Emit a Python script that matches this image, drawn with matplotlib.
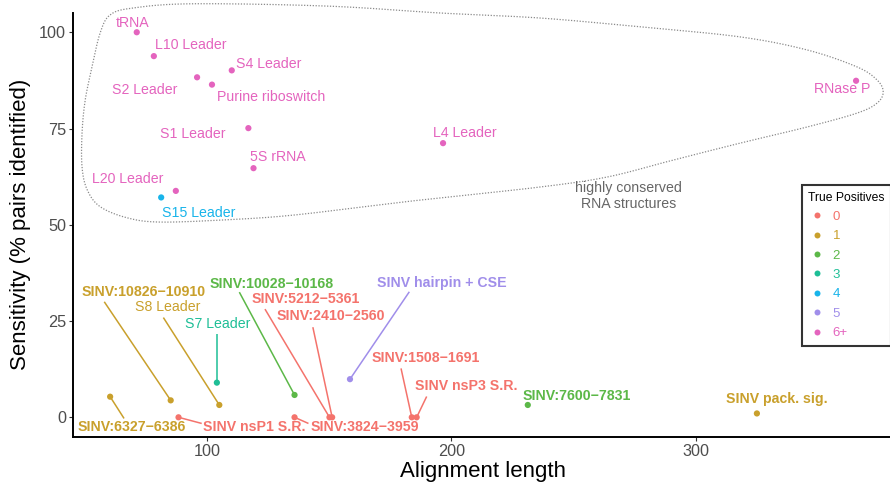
import numpy as np
import matplotlib
matplotlib.use("Agg")
import matplotlib.pyplot as plt
from matplotlib.lines import Line2D

plt.rcParams['font.family'] = ['Liberation Sans', 'DejaVu Sans']

# ---------------- data ----------------
names = ["tRNA", "L10 Leader", "S2 Leader", "Purine riboswitch", "S4 Leader",
         "S1 Leader", "5S rRNA", "L4 Leader", "RNase P", "L20 Leader", "S15 Leader",
         "SINV:6327\u22126386", "SINV:10826\u221210910", "S8 Leader", "S7 Leader",
         "SINV:10028\u221210168", "SINV nsP1 S.R.", "SINV:3824\u22123959",
         "SINV:5212\u22125361", "SINV:2410\u22122560", "SINV:1508\u22121691",
         "SINV nsP3 S.R.", "SINV hairpin + CSE", "SINV:7600\u22127831", "SINV pack. sig."]
align_len = [71.2, 78.2, 95.9, 102.0, 110.1, 116.9, 119.0, 196.6, 365.7, 87.2, 81.2,
             60.3, 85.1, 105.0, 104.0, 135.8, 88.3, 135.8, 150.1, 151.2, 183.8,
             185.8, 158.5, 231.3, 325.1]
sensitivity = [100.0, 93.8, 88.3, 86.4, 90.1, 75.1, 64.7, 71.2, 87.4, 58.8, 57.1,
               5.35, 4.4, 3.2, 9.0, 5.8, 0.0, 0.0, 0.0, 0.0, 0.0,
               0.0, 9.9, 3.2, 1.0]
true_pos = ["6+", "6+", "6+", "6+", "6+", "6+", "6+", "6+", "6+", "6+", "4",
            "1", "1", "1", "3", "2", "0", "0", "0", "0", "0",
            "0", "5", "2", "1"]
label_x = [69.5, 93.2, 74.5, 126.2, 125.3, 94.3, 129.0, 205.5, 360.1, 67.5, 96.6,
           69.2, 74.1, 83.7, 104.2, 126.5, 119.5, 164.7, 140.3, 150.7, 189.5,
           206.3, 196.3, 251.4, 333.4]
label_y = [102.3, 96.8, 84.9, 83.3, 91.8, 73.7, 67.6, 73.8, 85.2, 62.0, 53.1,
           -2.6, 32.5, 28.6, 24.1, 34.7, -2.6, -2.6, 30.8, 26.2, 15.3,
           8.2, 34.8, 5.5, 4.8]
# label end of the connector segment (None = no segment)
seg_x = [None] * 11 + [66.0, 57.9, 82.1, 104.0, 113.2, 97.8, 141.5, 123.7, 143.3,
                       179.4, 189.9, 182.8, None, None]
seg_y = [None] * 11 + [-0.3, 30.0, 25.9, 21.6, 32.5, -1.6, -1.6, 28.1, 23.4,
                       12.7, 5.4, 32.6, None, None]
bold_label = [False] * 11 + [True, True, False, False, True, True, True, True, True,
                             True, True, True, True, True]

levels = ["0", "1", "2", "3", "4", "5", "6+"]
level_colors = ["#F4736C", "#C9A02C", "#5CB848", "#1EBE96", "#18B4EA", "#A08EEA", "#E464BE"]

# annotation outline ("highly conserved RNA structures") anchor points
hull_x = [60.3, 69.7, 94.3, 149.1, 195.4, 236.3, 277.3, 318.2, 345.7, 366.1, 374.3,
          376.8, 374.3, 366.1, 345.7, 318.2, 290.8, 263.8, 236.3, 195.4, 176.2,
          135.2, 108.2, 80.8, 67.3, 56.2, 50.9, 48.8, 48.8, 50.1, 52.9, 56.2]
hull_y = [104.5, 106.3, 107.4, 106.8, 105.0, 103.7, 101.4, 98.8, 95.4, 91.0, 87.6,
          84.5, 81.6, 79.0, 75.4, 71.2, 66.8, 62.4, 59.8, 57.0, 55.6,
          52.5, 51.3, 50.7, 51.8, 54.7, 59.1, 65.0, 73.8, 82.4, 91.0, 99.8]

x_ticks = [100, 200, 300]
y_ticks = [0, 25, 50, 75, 100]

# ---------------- figure ----------------
W, H = 890, 486
fig = plt.figure(figsize=(W / 100, H / 100), dpi=100)
ax = fig.add_axes([73 / W, 1 - 436.7 / H, 820 / W, 423.7 / H])
ax.set_xlim(45.1, 45.1 + 820 / 2.4425)
ax.set_ylim(-5.04, 105.0)

cmap = dict(zip(levels, level_colors))

# outline (closed Catmull-Rom spline through anchors)
def closed_spline(xs, ys, n=24):
    P = np.column_stack([xs, ys])
    N = len(P)
    t = np.linspace(0, 1, n, endpoint=False)[:, None]
    segs = []
    for i in range(N):
        p0, p1, p2, p3 = P[(i - 1) % N], P[i], P[(i + 1) % N], P[(i + 2) % N]
        segs.append(0.5 * (2 * p1 + (-p0 + p2) * t + (2 * p0 - 5 * p1 + 4 * p2 - p3) * t ** 2
                           + (-p0 + 3 * p1 - 3 * p2 + p3) * t ** 3))
    out = np.vstack(segs + [segs[0][:1]])
    return out[:, 0], out[:, 1]

hx, hy = closed_spline(hull_x, hull_y)
ax.plot(hx, hy, color="#8a8a8a", lw=0.9, ls=(0, (1, 1.3)), clip_on=False, zorder=1)
ax.text(272.7, 57.5, "highly conserved\nRNA structures", ha="center", va="center",
        fontsize=10.2, color="#666666", linespacing=1.12)

# connector segments
for i in range(len(names)):
    if seg_x[i] is not None:
        ax.plot([align_len[i], seg_x[i]], [sensitivity[i], seg_y[i]],
                color=cmap[true_pos[i]], lw=1.1, solid_capstyle="butt", zorder=2)

# points
ax.scatter(align_len, sensitivity, c=[cmap[t] for t in true_pos], s=20,
           linewidths=0, zorder=3)

# labels
for i in range(len(names)):
    ax.text(label_x[i], label_y[i], names[i], ha="center", va="center",
            fontsize=10.2, color=cmap[true_pos[i]],
            fontweight="bold" if bold_label[i] else "normal", zorder=4)

# axes styling
for s in ["top", "right"]:
    ax.spines[s].set_visible(False)
for s in ["left", "bottom"]:
    ax.spines[s].set_linewidth(1.4)
    ax.spines[s].set_color("black")
ax.set_xticks(x_ticks)
ax.set_yticks(y_ticks)
ax.tick_params(axis="both", length=3, width=0.8, color="#333333",
               labelcolor="#4D4D4D", labelsize=11.7)
ax.tick_params(axis="x", pad=2)
ax.tick_params(axis="y", pad=2)
ax.set_xlabel("Alignment length", fontsize=16, labelpad=2)
ax.set_ylabel("Sensitivity (% pairs identified)", fontsize=16, labelpad=6)

# legend
handles = [Line2D([], [], ls="none", marker="o", markersize=4.3, markerfacecolor=c,
                  markeredgewidth=0) for c in level_colors]
leg = ax.legend(handles, levels, title="True Positives", loc="upper left",
                bbox_to_anchor=(801.7 / W, 1 - 185 / H), bbox_transform=fig.transFigure,
                frameon=True, fancybox=False, edgecolor="black", fontsize=9.5,
                title_fontsize=8.7, labelcolor=level_colors, handlelength=1.3,
                handletextpad=0.55, labelspacing=0.54, borderpad=0.5, borderaxespad=0)
leg.get_frame().set_linewidth(1.5)
leg._legend_box.align = "left"

fig.savefig("out.png", dpi=100)
